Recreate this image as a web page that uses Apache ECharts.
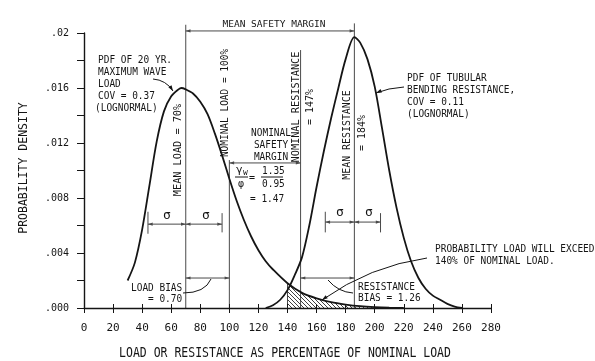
<!DOCTYPE html>
<html>
<head>
<meta charset="utf-8">
<script src="https://cdn.jsdelivr.net/npm/echarts@6/dist/echarts.min.js"></script>
<style>
  html, body { margin: 0; padding: 0; background: #fff; }
  #chart { width: 595px; height: 361px; }
</style>
</head>
<body>
<div id="chart"></div>
<script>
// lettering on the drawing is a stencil-like mono face
const FONT = '"DejaVu Sans Mono", "Liberation Mono", monospace'
const INK = '#151515'
const GUIDE = '#4a4a4a'

// PDF of 20 yr maximum wave load
const loadX = [30, 35, 40, 45, 50, 55, 60, 65, 67, 70, 75, 80, 85, 90, 95, 100, 105, 110, 115, 120, 125, 130, 140, 150, 160, 170, 180, 190, 200, 210, 220]
const loadY = [0.0020, 0.0033, 0.0057, 0.0089, 0.0121, 0.0143, 0.0154, 0.0159, 0.0160, 0.0159, 0.0156, 0.0150, 0.0141, 0.0127, 0.0111, 0.0094, 0.0078, 0.0064, 0.0052, 0.0042, 0.0034, 0.0028, 0.0018, 0.0011, 0.0007, 0.00042, 0.00025, 0.00013, 0.00006, 0.00002, 0]

// PDF of tubular bending resistance
const resX = [125, 130, 135, 140, 145, 150, 155, 160, 165, 170, 175, 180, 186, 190, 195, 200, 205, 210, 215, 220, 225, 230, 235, 240, 245, 250, 255, 260]
const resY = [0, 0.0002, 0.0006, 0.0013, 0.0024, 0.0037, 0.0060, 0.0088, 0.0114, 0.0138, 0.0160, 0.0181, 0.0197, 0.0193, 0.0181, 0.0161, 0.0131, 0.0100, 0.0073, 0.0051, 0.0034, 0.0022, 0.0014, 0.0009, 0.0006, 0.0003, 0.0001, 0]

// exceedance region starts at 140 % of nominal load
const exceedFrom = 140

// reference values as drawn (x in % of nominal load)
const meanLoad = 70
const nominalLoad = 100
const nominalRes = 149
const meanRes = 186
const sigmaLoad = [44, 95]
const sigmaRes = [166, 204]

const xTicks = [0, 20, 40, 60, 80, 100, 120, 140, 160, 180, 200, 220, 240, 260, 280]
const yTicks = [0, 0.004, 0.008, 0.012, 0.016, 0.02]
const yTickText = ['.000', '.004', '.008', '.012', '.016', '.02']

const pairs = (xs, ys) => xs.map((x, i) => [x, ys[i]])
const loadData = pairs(loadX, loadY)
const resData = pairs(resX, resY)
const exceedData = loadData.filter((p) => p[0] >= exceedFrom)

// plain guide lines, [x1, y1, x2, y2] in data units
const guides = [
  [meanLoad, 0, meanLoad, 0.0206],
  [nominalLoad, 0, nominalLoad, 0.01076],
  [nominalRes, 0, nominalRes, 0.01876],
  [meanRes, 0, meanRes, 0.0207],
  [exceedFrom, 0, exceedFrom, 0.0018],
  [sigmaLoad[0], 0.0054, sigmaLoad[0], 0.0070],
  [sigmaLoad[1], 0.0055, sigmaLoad[1], 0.0069],
  [sigmaRes[0], 0.0055, sigmaRes[0], 0.0070],
  [sigmaRes[1], 0.0055, sigmaRes[1], 0.0069]
]

// dimension arrows, heads at both ends
const dims = [
  [meanLoad, 0.02015, meanRes, 0.02015],
  [nominalLoad, 0.01055, nominalRes, 0.01055],
  [sigmaLoad[0], 0.0061, meanLoad, 0.0061],
  [meanLoad, 0.0061, sigmaLoad[1], 0.0061],
  [sigmaRes[0], 0.00625, meanRes, 0.00625],
  [meanRes, 0.00625, sigmaRes[1], 0.00625],
  [meanLoad, 0.00218, nominalLoad, 0.00218],
  [nominalRes, 0.00218, meanRes, 0.00218]
]

function hatch() {
  const c = document.createElement('canvas')
  c.width = 4
  c.height = 4
  const g = c.getContext('2d')
  g.strokeStyle = '#2a2a2a'
  g.lineWidth = 0.9
  g.beginPath()
  g.moveTo(0, 0); g.lineTo(4, 4)
  g.moveTo(-1, 3); g.lineTo(1, 5)
  g.moveTo(3, -1); g.lineTo(5, 1)
  g.stroke()
  return c
}

const chart = echarts.init(document.getElementById('chart'))

chart.setOption({
  animation: false,
  backgroundColor: '#fff',
  grid: { left: 84, right: 104, top: 33, bottom: 53 },
  xAxis: [
    {
      type: 'value', min: 0, max: 280, interval: 20,
      axisLine: { lineStyle: { color: INK, width: 1.4 } },
      axisTick: { length: 5, lineStyle: { color: INK } },
      axisLabel: {
        margin: 15, fontFamily: FONT, fontSize: 11, color: INK,
        formatter: (v) => (xTicks.includes(v) ? String(v) : '')
      },
      splitLine: { show: false }
    },
    {
      // short tick stubs above the axis line
      type: 'value', min: 0, max: 280, interval: 20, position: 'bottom',
      axisLine: { show: false },
      axisTick: { inside: true, length: 4, lineStyle: { color: INK } },
      axisLabel: { show: false },
      splitLine: { show: false }
    }
  ],
  yAxis: {
    type: 'value', min: 0, max: 0.02, interval: 0.002,
    axisLine: { show: true, lineStyle: { color: INK, width: 1.4 } },
    axisTick: { length: 7, lineStyle: { color: INK } },
    axisLabel: {
      margin: 15, fontFamily: FONT, fontSize: 10, color: INK,
      formatter: (v) => {
        const i = yTicks.findIndex((t) => Math.abs(t - v) < 1e-7)
        return i < 0 ? '' : yTickText[i]
      }
    },
    splitLine: { show: false }
  },
  series: [
    {
      name: 'exceed', type: 'line', data: exceedData, smooth: 0.3,
      showSymbol: false, silent: true,
      lineStyle: { width: 0 },
      areaStyle: { color: { image: hatch(), repeat: 'repeat' }, opacity: 1 }
    },
    {
      name: 'load', type: 'line', data: loadData, smooth: 0.3,
      showSymbol: false, silent: true,
      lineStyle: { color: INK, width: 1.8 }
    },
    {
      name: 'resistance', type: 'line', data: resData, smooth: 0.3,
      showSymbol: false, silent: true,
      lineStyle: { color: INK, width: 1.8 }
    }
  ]
})

const P = (x, y) => chart.convertToPixel({ gridIndex: 0 }, [x, y])

function text(str, x, y, size, opts = {}) {
  return {
    type: 'text',
    x, y,
    rotation: opts.rotation || 0,
    scaleX: opts.sx || 1,
    silent: true,
    style: {
      text: str,
      font: `${size}px ${FONT}`,
      fill: INK,
      align: opts.align || 'left',
      verticalAlign: 'middle',
      lineHeight: opts.lineHeight || size
    }
  }
}
const vtext = (str, x, y, size, sx) => text(str, x, y, size, { rotation: Math.PI / 2, align: 'center', sx })

function head(tip, from, color, L = 6) {
  const a = Math.atan2(tip[1] - from[1], tip[0] - from[0])
  return {
    type: 'polygon', silent: true,
    shape: { points: [tip, [tip[0] - L * Math.cos(a - 0.32), tip[1] - L * Math.sin(a - 0.32)], [tip[0] - L * Math.cos(a + 0.32), tip[1] - L * Math.sin(a + 0.32)]] },
    style: { fill: color }
  }
}
function curve(p0, c, p1) {
  return {
    type: 'bezierCurve', silent: true,
    shape: { x1: p0[0], y1: p0[1], cpx1: c[0], cpy1: c[1], x2: p1[0], y2: p1[1] },
    style: { stroke: INK, lineWidth: 1, fill: null }
  }
}
const leader = (p0, c, p1) => [curve(p0, c, p1), head(p1, c, INK)]
const rule = (x1, x2, y) => ({
  type: 'line', silent: true,
  shape: { x1, y1: y, x2, y2: y },
  style: { stroke: INK, lineWidth: 1 }
})
function seg(d, color) {
  const a = P(d[0], d[1])
  const b = P(d[2], d[3])
  return { type: 'line', silent: true, shape: { x1: a[0], y1: a[1], x2: b[0], y2: b[1] }, style: { stroke: color, lineWidth: 1 } }
}
function dim(d) {
  const a = P(d[0], d[1])
  const b = P(d[2], d[3])
  return [seg(d, GUIDE), head(a, b, GUIDE, 5), head(b, a, GUIDE, 5)]
}

const notes = [
  ...guides.map((d) => seg(d, GUIDE)),
  ...dims.flatMap(dim),

  text('PROBABILITY DENSITY', 24, 168, 11.5, { rotation: Math.PI / 2, align: 'center' }),
  text('LOAD OR RESISTANCE AS PERCENTAGE OF NOMINAL LOAD', 285, 353, 14, { align: 'center', sx: 0.82 }),

  text('PDF OF 20 YR.\nMAXIMUM WAVE\nLOAD\nCOV = 0.37', 98, 78, 11, { lineHeight: 12, sx: 0.86 }),
  text('(LOGNORMAL)', 95, 108, 11, { sx: 0.86 }),
  ...leader([153, 79], [166, 80], [173, 91]),

  text('PDF OF TUBULAR\nBENDING RESISTANCE,\nCOV = 0.11\n(LOGNORMAL)', 407, 96, 11, { lineHeight: 12, sx: 0.86 }),
  ...leader([404, 87], [388, 88], [376, 93]),

  text('MEAN SAFETY MARGIN', 274, 25, 9.5, { align: 'center' }),

  text('NOMINAL\nSAFETY\nMARGIN', 271, 145, 11, { align: 'center', lineHeight: 12, sx: 0.86 }),
  text('γ', 236, 170, 11),
  text('w', 243, 173, 8),
  rule(235, 248, 177),
  text('φ', 238, 184, 10),
  text('=', 249, 178, 10),
  text('1.35', 262, 171, 11, { sx: 0.86 }),
  rule(261, 283, 177),
  text('0.95', 262, 184, 11, { sx: 0.86 }),
  text('= 1.47', 250, 199, 11, { sx: 0.86 }),

  vtext('MEAN LOAD = 70%', 178, 150, 11, 0.93),
  vtext('NOMINAL LOAD = 100%', 225, 103, 11, 0.86),
  vtext('NOMINAL RESISTANCE', 296, 107, 11, 0.93),
  vtext('= 147%', 310, 107, 11, 0.9),
  vtext('MEAN RESISTANCE', 347, 135, 11, 0.9),
  vtext('= 184%', 362, 133, 11, 0.9),

  text('σ', 167, 216, 13, { align: 'center' }),
  text('σ', 206, 216, 13, { align: 'center' }),
  text('σ', 340, 213, 13, { align: 'center' }),
  text('σ', 369, 213, 13, { align: 'center' }),

  text('LOAD BIAS', 131, 288, 11, { sx: 0.86 }),
  text('= 0.70', 148, 299, 11, { sx: 0.86 }),
  curve([211, 279], [205, 293], [183, 293]),

  text('RESISTANCE', 358, 287, 11, { sx: 0.86 }),
  text('BIAS = 1.26', 358, 298, 11, { sx: 0.86 }),
  curve([328, 280], [338, 292], [353, 293]),

  text('PROBABILITY LOAD WILL EXCEED\n140% OF NOMINAL LOAD.', 435, 255, 11, { lineHeight: 12, sx: 0.86 }),
  ...leader([427, 258], [370, 266], [322, 300])
]

chart.setOption({ graphic: notes })
</script>
</body>
</html>
